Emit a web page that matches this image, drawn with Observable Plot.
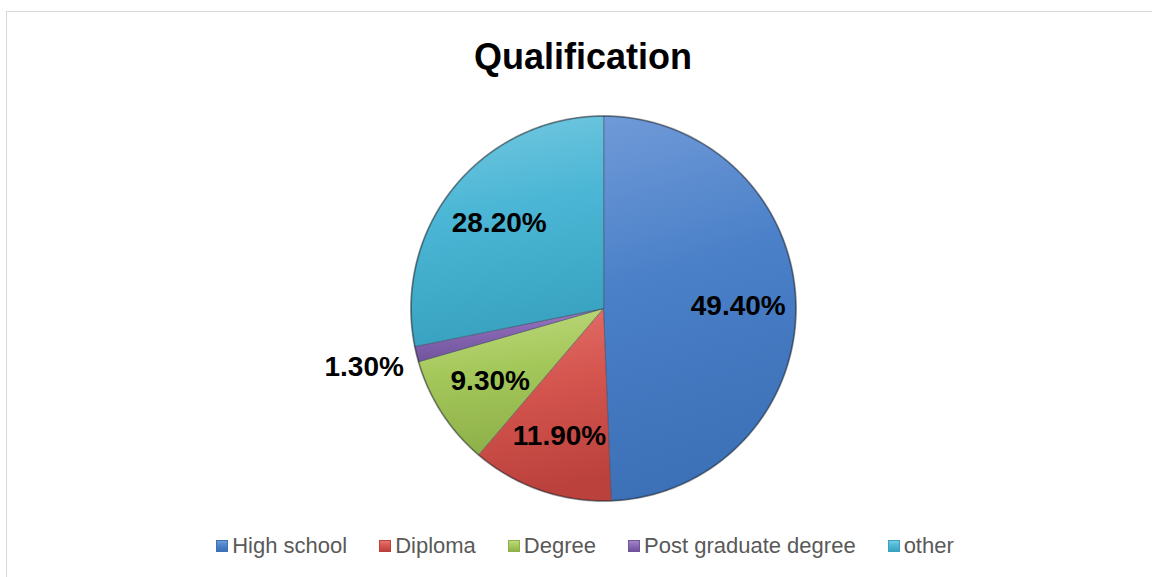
<!DOCTYPE html>
<html>
<head>
<meta charset="utf-8">
<script src="https://cdn.jsdelivr.net/npm/d3@7"></script>
<script src="https://cdn.jsdelivr.net/npm/@observablehq/plot@0.6"></script>
<style>
  html, body { margin: 0; padding: 0; background: #fff; }
  body { width: 1152px; height: 577px; position: relative; overflow: hidden; }
  #frame { position: absolute; left: 6px; top: 11px; width: 1160px; height: 600px;
           border: 1px solid #d9d9d9; box-sizing: border-box; }
  #title { position: absolute; left: 6px; width: 1154px; top: 39px; text-align: center;
           font: bold 36px "Liberation Sans", Arial, sans-serif; line-height: 36px; color: #000; }
  #chart { position: absolute; left: 0; top: 98px; }
  #legend { position: absolute; left: 6px; width: 1158px; top: 534px; height: 24px;
            display: flex; justify-content: center; align-items: center;
            font: 22px "Liberation Sans", Arial, sans-serif; color: #595959; }
  .item { display: flex; align-items: center; margin: 0 16px; white-space: nowrap; }
  .sw { width: 12px; height: 12px; margin-right: 4px; box-sizing: border-box; }
</style>
</head>
<body>
<div id="frame"></div>
<div id="title">Qualification</div>
<div id="chart"></div>
<div id="legend"></div>
<script>
const categories = ["High school", "Diploma", "Degree", "Post graduate degree", "other"];
const shares = [49.4, 11.9, 9.3, 1.3, 28.2];
const baseColors = ["#4a80c8", "#d5554f", "#a5c85b", "#8866b3", "#4bb6d5"];
const lightColors = ["#709ad8", "#e4736d", "#bfda80", "#a288c8", "#76c9e1"];
const darkColors = ["#3c70b7", "#bb413c", "#8fb14a", "#70539b", "#39a2c1"];

const total = d3.sum(shares);
let acc = 0;
const slices = shares.map((v, i) => {
  const a0 = acc / total * 2 * Math.PI;
  acc += v;
  const a1 = acc / total * 2 * Math.PI;
  return {i, name: categories[i], value: v, a0, a1, mid: (a0 + a1) / 2};
});

function slicePoints(s) {
  const n = Math.max(2, Math.ceil((s.a1 - s.a0) * 180 / Math.PI));
  const pts = [{x: 0, y: 0}];
  for (let k = 0; k <= n; k++) {
    const a = s.a0 + (s.a1 - s.a0) * k / n;
    pts.push({x: Math.sin(a), y: Math.cos(a)});
  }
  return pts;
}
const rim = d3.range(0, 361).map(d => ({x: Math.sin(d * Math.PI / 180), y: Math.cos(d * Math.PI / 180)}));

const labels = slices.map(s => {
  const r = s.value / total < 0.02 ? 1.28 : 0.7;
  return {x: r * Math.sin(s.mid), y: r * Math.cos(s.mid), text: s.value.toFixed(2) + "%"};
});

const W = 1152, H = 420, cx = 603, cy = 210, R = 192.5;
const marks = slices.map(s => Plot.line(slicePoints(s), {
  x: "x", y: "y", curve: "linear-closed",
  fill: `url(#pg${s.i})`, stroke: "#3b4a5c", strokeOpacity: 0.55, strokeWidth: 1
}));
marks.push(Plot.line(rim, {x: "x", y: "y", stroke: "#000", strokeOpacity: 0.28, strokeWidth: 2}));
marks.push(Plot.text(labels, {
  x: "x", y: "y", text: "text", fontSize: 28, fontWeight: "bold",
  fontFamily: "Liberation Sans, Arial, sans-serif", fill: "#000"
}));

const svg = Plot.plot({
  width: W, height: H,
  marginLeft: cx - R, marginRight: W - cx - R,
  marginTop: cy - R, marginBottom: H - cy - R,
  x: {domain: [-1, 1], axis: null},
  y: {domain: [-1, 1], axis: null},
  style: {background: "transparent", overflow: "visible"},
  marks
});

const ns = "http://www.w3.org/2000/svg";
const defs = document.createElementNS(ns, "defs");
slices.forEach(s => {
  const g = document.createElementNS(ns, "linearGradient");
  g.setAttribute("id", `pg${s.i}`);
  g.setAttribute("x1", "0"); g.setAttribute("y1", "0");
  g.setAttribute("x2", "0.15"); g.setAttribute("y2", "1");
  [[0, lightColors[s.i]], [0.45, baseColors[s.i]], [1, darkColors[s.i]]].forEach(([o, c]) => {
    const st = document.createElementNS(ns, "stop");
    st.setAttribute("offset", o);
    st.setAttribute("stop-color", c);
    g.appendChild(st);
  });
  defs.appendChild(g);
});
svg.insertBefore(defs, svg.firstChild);
document.getElementById("chart").appendChild(svg);

const legend = document.getElementById("legend");
categories.forEach((c, i) => {
  const item = document.createElement("div");
  item.className = "item";
  const sw = document.createElement("div");
  sw.className = "sw";
  sw.style.background = `linear-gradient(${lightColors[i]}, ${baseColors[i]} 50%, ${darkColors[i]})`;
  sw.style.border = `1px solid ${darkColors[i]}`;
  const t = document.createElement("span");
  t.textContent = c;
  item.appendChild(sw);
  item.appendChild(t);
  legend.appendChild(item);
});
</script>
</body>
</html>
